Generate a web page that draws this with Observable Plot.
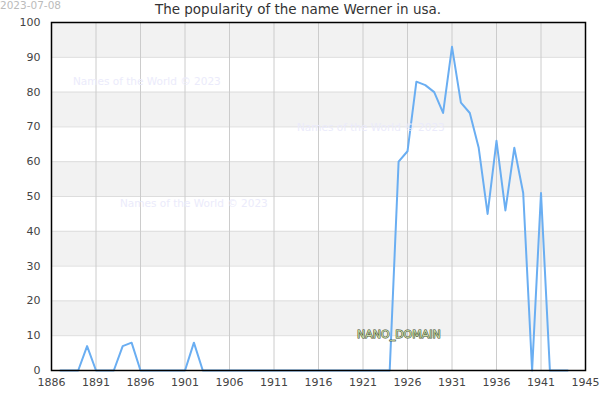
<!DOCTYPE html>
<html>
<head>
<meta charset="utf-8">
<script src="https://cdn.jsdelivr.net/npm/d3@7"></script>
<script src="https://cdn.jsdelivr.net/npm/@observablehq/plot@0.6"></script>
<style>
  html, body { margin: 0; padding: 0; background: #fff; }
  #wrap { position: relative; width: 600px; height: 400px; font-family: "DejaVu Sans", sans-serif; overflow: hidden; }
  #wrap svg { position: absolute; left: 0; top: 0; }
  .ov { position: absolute; white-space: nowrap; line-height: 1; }
  #title { left: 0; width: 596px; text-align: center; top: 3px; font-size: 13.5px; color: #333; }
  #date { left: 0; top: 0px; font-size: 10.5px; color: #bbb; }
  .wm { font-size: 10.5px; color: #ebebfb; }
  #nano { left: 357px; top: 329px; font-size: 11px; color: #c8d8a8; -webkit-text-stroke: 1px #3a4a2a; paint-order: stroke fill; }
</style>
</head>
<body>
<div id="wrap"></div>
<script>
const years = [1887,1888,1889,1890,1891,1892,1893,1894,1895,1896,1897,1898,1899,1900,1901,1902,1903,1904,1905,1906,1907,1908,1909,1910,1911,1912,1913,1914,1915,1916,1917,1918,1919,1920,1921,1922,1923,1924,1925,1926,1927,1928,1929,1930,1931,1932,1933,1934,1935,1936,1937,1938,1939,1940,1941,1942,1943,1944];
const values = [0,0,0,7,0,0,0,7,8,0,0,0,0,0,0,8,0,0,0,0,0,0,0,0,0,0,0,0,0,0,0,0,0,0,0,0,0,0,60,63,83,82,80,74,93,77,74,64,45,66,46,64,51,0,51,0,0,0];
const xTickPositions = [1886,1891,1896,1901,1906,1911,1916,1921,1926,1931,1936,1941,1946];
const xTickLabels = ["1886","1891","1896","1901","1906","1911","1916","1921","1926","1931","1936","1941","1945"];
const yTicks = [0,10,20,30,40,50,60,70,80,90,100];
const bandStarts = [10,30,50,70,90];
const bandWidth = 10;

const data = years.map((y, i) => ({year: y, value: values[i]}));
const bands = bandStarts.map(b => ({y1: b, y2: b + bandWidth}));
const labelOf = new Map(xTickPositions.map((p, i) => [p, xTickLabels[i]]));

const chart = Plot.plot({
  width: 600,
  height: 400,
  marginLeft: 51,
  marginRight: 15,
  marginTop: 22,
  marginBottom: 30,
  style: {fontFamily: "DejaVu Sans, sans-serif", fontSize: "11px", color: "#444", background: "transparent"},
  x: {domain: [1886, 1946], label: null},
  y: {domain: [0, 100], label: null},
  marks: [
    Plot.rectY(bands, {y1: "y1", y2: "y2", fill: "#f2f2f2"}),
    Plot.gridY(yTicks, {stroke: "#dddddd", strokeOpacity: 1}),
    Plot.gridX(xTickPositions, {stroke: "#cccccc", strokeOpacity: 1}),
    Plot.axisY(yTicks, {tickSize: 0, tickPadding: 11, fill: "#444", fontSize: 11}),
    Plot.axisX(xTickPositions, {tickSize: 0, tickPadding: 8, fill: "#444", fontSize: 11, tickFormat: d => labelOf.get(d)}),
    Plot.line(data, {x: "year", y: "value", stroke: "#6aaef2", strokeWidth: 2}),
    Plot.frame({stroke: "#000", strokeWidth: 1.5})
  ]
});

const wrap = document.getElementById("wrap");
wrap.appendChild(chart);

function addText(id, cls, text, left, top) {
  const d = document.createElement("div");
  if (id) d.id = id;
  d.className = "ov " + (cls || "");
  d.textContent = text;
  if (left != null) d.style.left = left + "px";
  if (top != null) d.style.top = top + "px";
  wrap.appendChild(d);
}
addText("date", "", "2023-07-08");
addText("title", "", "The popularity of the name Werner in usa.");
const wmText = "Names of the World \u00a9 2023";
addText(null, "wm", wmText, 73, 76);
addText(null, "wm", wmText, 297, 122);
addText(null, "wm", wmText, 120, 198);
addText("nano", "", "NANO_DOMAIN");
</script>
</body>
</html>
